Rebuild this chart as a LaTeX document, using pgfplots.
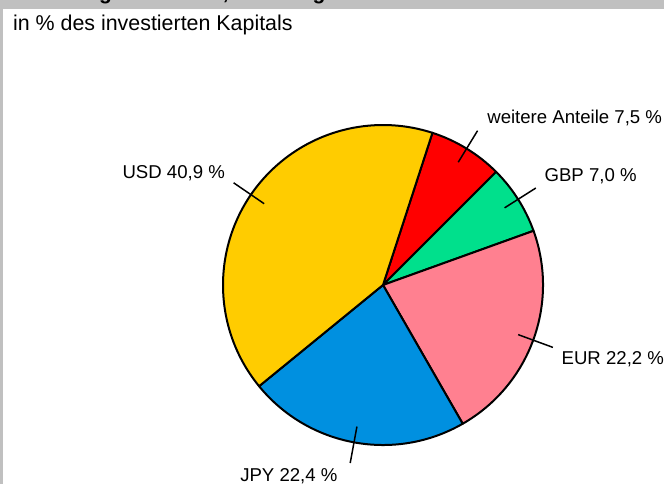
\documentclass[border=0pt]{standalone}
\usepackage{pgfplots}
\pgfplotsset{compat=1.18}
\usepackage{pgfplotstable}
\usepackage{fontspec}
\setmainfont{Liberation Sans}

\definecolor{pieRed}{HTML}{FF0000}
\definecolor{pieGreen}{HTML}{00E08C}
\definecolor{piePink}{HTML}{FF8090}
\definecolor{pieBlue}{HTML}{0090E0}
\definecolor{pieYellow}{HTML}{FFCC00}
\definecolor{frameGray}{HTML}{C0C0C0}

% share in percent, clockwise from the top; label anchor and offset in px
\pgfplotstableread[col sep=comma]{
name,value,fillc,anch,dx,dy
weitere Anteile,7.5,pieRed,base west,9,7
GBP,7.0,pieGreen,base west,8,6.3
EUR,22.2,piePink,base west,8,-16.7
JPY,22.4,pieBlue,base east,-12,-18.3
USD,40.9,pieYellow,base east,-8,4.7
}\piedata

\newcommand\labelfont{\fontsize{9.3pt}{11pt}\selectfont}

\begin{document}
\begin{tikzpicture}
\path[use as bounding box] (0,0) rectangle (332pt,242pt);
\clip (0,0) rectangle (332pt,242pt);
\begin{axis}[
    at={(0,0)}, anchor=south west,
    scale only axis, width=332pt, height=242pt,
    xmin=0, xmax=664, ymin=0, ymax=484,
    hide axis, clip=false,
  ]
  % frame and title bar (title cut off at the top as in the original)
  \fill[frameGray] (axis cs:0,475) rectangle (axis cs:664,484);
  \fill[frameGray] (axis cs:0,0) rectangle (axis cs:2.7,484);
  \node[anchor=base west, inner sep=0pt, font=\fontsize{10.5pt}{12pt}\bfseries\selectfont]
    at (axis cs:10,484.6) {Verteilung des Fonds, Währungen};
  \node[anchor=base west, inner sep=0pt, font=\fontsize{10.7pt}{12pt}\selectfont]
    at (axis cs:12.7,454) {in \% des investierten Kapitals};

  % pie: centre (383,199), radius 160 px = 80pt
  \pgfplotstablegetrowsof{\piedata}
  \pgfmathtruncatemacro\lastrow{\pgfplotsretval-1}
  \def\acur{72}
  \pgfplotsforeachungrouped \i in {0,...,\lastrow}{%
    \pgfplotstablegetelem{\i}{name}\of\piedata \let\pname\pgfplotsretval
    \pgfplotstablegetelem{\i}{value}\of\piedata \let\pval\pgfplotsretval
    \pgfplotstablegetelem{\i}{fillc}\of\piedata \let\pfill\pgfplotsretval
    \pgfplotstablegetelem{\i}{anch}\of\piedata \let\panch\pgfplotsretval
    \pgfplotstablegetelem{\i}{dx}\of\piedata \let\pdx\pgfplotsretval
    \pgfplotstablegetelem{\i}{dy}\of\piedata \let\pdy\pgfplotsretval
    \pgfmathsetmacro\aend{\acur-3.6*\pval}
    \pgfmathsetmacro\amid{\acur-1.8*\pval}
    \pgfkeys{/pgf/number format/.cd, fixed, fixed zerofill, precision=1,
      use comma, assume math mode=true}
    \pgfmathprintnumberto{\pval}{\ptxt}
    \edef\temp{%
      \noexpand\filldraw[fill=\pfill, draw=black, line width=1pt, line join=round]
        (axis cs:383,199) -- ++(\acur:80pt)
        arc[start angle=\acur, end angle=\aend, radius=80pt] -- cycle;
      \noexpand\draw[line width=0.75pt] (axis cs:383,199) ++(\amid:72pt) -- ++(\amid:18.5pt)
        node[anchor=\panch, inner sep=0pt, xshift=\pdx*0.5pt, yshift=\pdy*0.5pt,
             font=\noexpand\labelfont] {\pname\space\ptxt\space\noexpand\%};
    }\temp
    \let\acur\aend
  }
\end{axis}
\end{tikzpicture}
\end{document}
